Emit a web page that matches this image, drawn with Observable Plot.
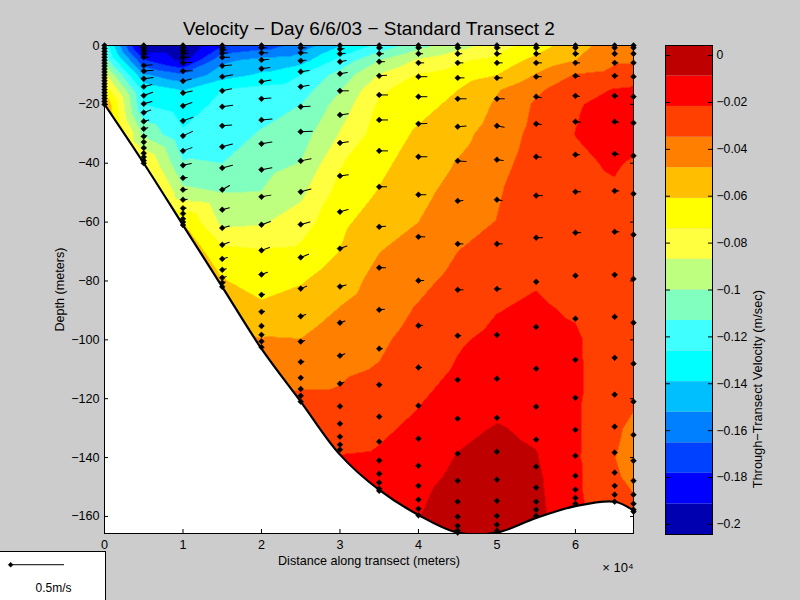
<!DOCTYPE html>
<html><head><meta charset="utf-8">
<script src="https://cdn.jsdelivr.net/npm/d3@7"></script>
<script src="https://cdn.jsdelivr.net/npm/@observablehq/plot@0.6"></script>
<style>
html,body{margin:0;padding:0;background:#ccc;overflow:hidden}
#fig{position:relative;width:800px;height:600px;background:#ccc}
#fig svg{position:absolute;left:0;top:0}
</style></head><body><div id="fig"></div>
<script>
const titleText = "Velocity \u2212 Day 6/6/03 \u2212 Standard Transect 2";
const xLabel = "Distance along transect (meters)";
const yLabel = "Depth (meters)";
const cLabel = "Through\u2212Transect Velocity (m/sec)";
const xTicks = [0,10000,20000,30000,40000,50000,60000];
const yTicks = [0,-20,-40,-60,-80,-100,-120,-140,-160];
const cTicks = [0,-0.02,-0.04,-0.06,-0.08,-0.1,-0.12,-0.14,-0.16,-0.18,-0.2];
const levels = [-0.2043,-0.1913,-0.1782,-0.1652,-0.1521,-0.1391,-0.1261,-0.113,-0.1,-0.0869,-0.0739,-0.0609,-0.0478,-0.0348,-0.0217,-0.0087];
const levelTop = 0.0043;
const colors = ["#0000b0","#0000ff","#0040ff","#0080ff","#00bfff","#00ffff","#40ffff","#80ffbf","#bfff80","#ffff40","#ffff00","#ffbf00","#ff8000","#ff4000","#ff0000","#bf0000"];

const stationX = [0,5000,10000,15000,20000,25000,30000,35000,40000,45000,50000,55000,60000,65000,67400];
const bottomDepth = [-20,-40,-61,-82,-103,-121,-139,-151,-159.5,-165.5,-165.5,-160.5,-156.5,-155,-158];

const gridDepth = [0,5,10,15,20,30,40,50,60,70,80,90,100,110,120,130,140,150,160,166];
const gridValues = [
[-.118,-.105,-.082,-.065,-.048,-.04,-.04,-.04,-.04,-.04,-.04,-.04,-.04,-.04,-.04,-.04,-.04,-.04,-.04,-.04],
[-.203,-.177,-.15,-.13,-.126,-.103,-.072,-.055,-.05,-.05,-.05,-.05,-.05,-.05,-.05,-.05,-.05,-.05,-.05,-.05],
[-.203,-.195,-.163,-.14,-.134,-.124,-.112,-.096,-.061,-.05,-.045,-.045,-.045,-.045,-.045,-.045,-.045,-.045,-.045,-.045],
[-.179,-.155,-.145,-.126,-.122,-.118,-.113,-.1,-.09,-.07,-.06,-.05,-.045,-.045,-.045,-.045,-.045,-.045,-.045,-.045],
[-.172,-.148,-.137,-.122,-.118,-.112,-.105,-.0995,-.0885,-.072,-.066,-.058,-.047,-.04,-.035,-.035,-.035,-.035,-.035,-.035],
[-.16,-.145,-.126,-.119,-.113,-.106,-.0995,-.09,-.08,-.071,-.062,-.054,-.0475,-.039,-.033,-.03,-.03,-.03,-.03,-.03],
[-.14,-.122,-.108,-.101,-.095,-.086,-.075,-.069,-.064,-.0605,-.053,-.047,-.041,-.037,-.033,-.028,-.021,-.02,-.02,-.02],
[-.122,-.1,-.086,-.076,-.072,-.068,-.064,-.06,-.054,-.048,-.044,-.041,-.037,-.034,-.028,-.024,-.02,-.017,-.015,-.015],
[-.105,-.085,-.073,-.068,-.065,-.059,-.055,-.052,-.0478,-.043,-.038,-.0335,-.03,-.027,-.023,-.019,-.015,-.011,-.009,-.008],
[-.092,-.076,-.068,-.061,-.058,-.052,-.047,-.042,-.038,-.0348,-.031,-.027,-.023,-.0205,-.016,-.0115,-.008,-.005,-.003,-.003],
[-.08,-.07,-.061,-.049,-.046,-.042,-.039,-.036,-.0345,-.03,-.026,-.022,-.019,-.016,-.012,-.008,-.006,-.004,-.003,-.003],
[-.068,-.057,-.047,-.037,-.033,-.031,-.029,-.028,-.026,-.024,-.0225,-.02,-.018,-.015,-.013,-.0105,-.008,-.006,-.005,-.005],
[-.052,-.048,-.034,-.027,-.023,-.0215,-.0235,-.025,-.027,-.027,-.026,-.023,-.02,-.0195,-.0196,-.0198,-.0198,-.0198,-.0185,-.0185],
[-.042,-.037,-.03,-.021,-.017,-.015,-.0205,-.023,-.025,-.026,-.027,-.028,-.029,-.03,-.031,-.033,-.0345,-.031,-.026,-.025],
[-.043,-.037,-.026,-.02,-.016,-.014,-.023,-.026,-.027,-.028,-.029,-.03,-.031,-.032,-.033,-.037,-.042,-.036,-.03,-.03]
];

const stationDepths = [
[0,1,2,3,4,5,6,7,8,9,10,11,12,13,14,15,16,17,18,19,20],
[0,.8,1.7,2.8,4,6.8,8.7,11.3,14,17,19.8,22.8,25.8,28.3,30.9,32.8,34.8,36.6,37.9,39.1,40],
[0,.8,1.7,2.6,4,5.9,8.7,12.1,16.1,20.5,25.6,30.7,35.8,40.7,45,49,52.4,55.3,57.1,58.9,60,61],
[0,.8,1.5,2.6,4,6.9,10.6,15.4,20.8,27.3,34.4,41.6,49,55.8,62,67.7,72.5,76.2,78.9,80.6,82],
[0,.8,2.5,4.9,7.9,12.3,18.1,25.3,33.4,42.2,51.4,60.9,69.6,77.8,84.7,90.5,95.3,98.3,100.5,102.5],
[0,.8,2.5,5.2,8.9,14,20.8,29.3,39.2,49.7,60.8,72,82.6,92,100.6,107.5,112.9,116.7,119,121],
[0,1.2,2.8,5.5,9.6,15.4,23.6,33.1,44.3,56.5,69,81.9,94.2,105.4,114.9,122.6,128.5,132.9,135.6,137.3],
[0,.8,2.8,5.5,10.3,16.8,25.3,35.8,48,61.6,75.5,89.8,103,115.3,126.1,134.6,141,145.5,148.5,150.6,151.3],
[0,.8,2.8,5.9,10.6,17.4,26.6,37.8,50.7,65,79.9,95.2,109.4,122.4,133.6,142.8,149.6,154.3,157.4,159.6],
[0,.8,2.8,5.9,11,18.1,27.6,39.2,52.8,67.4,83,98.6,113.6,126.8,138.7,147.9,155,160.1,163.2,164.8,165.5],
[0,.8,2.8,5.9,11,18.1,27.3,38.8,52.4,67.4,82.7,98.3,113.2,126.5,138,147.5,154.7,159.8,162.8,164.9],
[0,.8,2.8,5.9,10.6,17.4,26.6,37.8,51,65.3,80.3,95.6,109.8,122.7,133.9,143.1,150.2,155,157.7,159.8],
[0,.8,2.8,5.9,10.3,17.1,25.9,37.1,49.7,63.6,78.2,92.8,106.8,119.7,130.6,139.4,146.2,150.9,153.7,155.7],
[0,.8,2.8,5.9,10.3,17.1,25.9,36.8,49.4,63.3,77.9,92.2,106.1,118.6,129.5,138.3,145.1,149.6,152.6,155],
[0,.8,2.8,5.9,10.6,17.4,26.3,37.5,50.4,64.3,79.3,94.2,108.1,121,132.3,141.1,147.9,152.6,155.7,157.7,158.4]
];
const stationSpeeds = [
[0,0,0,0,0,0,0,0,0,0,0,0,0,0,0,0,0,0,0,0,0],
[.01,.02,.03,.04,.05,.08,.09,.09,.08,.09,.08,.07,.05,.04,.03,.02,.02,.01,.01,.005,.005],
[.01,.02,.04,.05,.06,.08,.09,.08,.09,.09,.1,.1,.09,.08,.04,.04,.04,.03,.02,.01,.01,.005],
[.01,.03,.04,.05,.07,.09,.1,.09,.1,.09,.1,.1,.08,.07,.07,.07,.05,.04,.04,.03,.005],
[.01,.05,.06,.07,.08,.09,.09,.1,.1,.1,.09,.09,.08,.06,.03,.03,.02,.01,.005,.005],
[.01,.05,.06,.05,.08,.08,.09,.11,.1,.1,.09,.08,.06,.05,.04,.03,.02,.01,.005,.005],
[.01,.04,.05,.06,.07,.08,.08,.08,.08,.08,.07,.06,.05,.05,.04,.01,.005,.005,.005,.005],
[.01,.03,.04,.05,.07,.08,.08,.08,.07,.06,.06,.05,.03,.02,.01,.005,.005,.005,.005,.005,.005],
[.01,.03,.04,.05,.08,.08,.08,.08,.07,.06,.05,.04,.03,.01,.005,.005,.005,.005,.005,.005],
[.01,.03,.04,.05,.06,.08,.08,.08,.05,.05,.05,.03,.01,.005,.005,.005,.005,.005,.005,.005,.005],
[.01,.03,.04,.05,.05,.07,.07,.06,.05,.05,.04,.01,.005,.005,.005,.005,.005,.005,.005,.005],
[.01,.03,.04,.05,.05,.05,.05,.05,.06,.06,.02,.005,.005,.005,.005,.005,.005,.005,.005,.005],
[.01,.02,.03,.04,.04,.04,.05,.04,.05,.05,.01,.005,.005,.005,.005,.005,.005,.005,.005,.005],
[.01,.01,.02,.03,.03,.03,.04,.04,.04,.04,.02,.02,.005,.005,.005,.005,.005,.005,.005,.005],
[.005,.005,.005,.005,.005,.005,.005,.005,.005,.005,.005,.005,.005,.005,.005,.005,.005,.005,.005,.005,.005]
];
const stationAngles = [
[0,0,0,0,0,0,0,0,0,0,0,0,0,0,0,0,0,0,0,0,0],
[0,0,0,0,0,5,5,8,15,20,15,20,15,15,15,15,15,15,0,0,0],
[0,0,0,0,0,2,2,15,12,20,20,25,20,12,5,5,5,5,5,0,0,0],
[0,0,0,0,0,5,10,12,8,5,15,15,30,15,15,20,15,15,15,15,0],
[0,0,0,5,8,10,5,5,10,10,10,20,20,20,10,10,10,0,0,0],
[0,0,0,5,8,10,3,3,12,15,15,22,22,20,15,10,10,0,0,0],
[0,5,5,10,10,0,8,8,8,15,20,15,20,22,20,0,0,0,0,0],
[0,0,0,0,5,0,0,0,0,5,0,5,0,0,0,0,0,0,0,0,0],
[0,0,0,0,0,0,2,0,0,0,3,5,0,0,0,0,0,0,0,0],
[0,0,0,0,0,0,5,-5,5,0,0,0,0,0,0,0,0,0,0,0,0],
[0,0,0,0,0,0,-10,-8,-10,0,0,0,0,0,0,0,0,0,0,0],
[0,0,0,0,0,-10,-8,-5,0,0,0,0,0,0,0,0,0,0,0,0],
[0,0,0,0,-8,-10,-5,0,0,0,0,0,0,0,0,0,0,0,0,0],
[0,0,0,0,0,-8,-8,-8,0,0,0,0,0,0,0,0,0,0,0,0],
[0,0,0,0,0,0,0,0,0,0,0,0,0,0,0,0,0,0,0,0,0]
];
const legendSpeed = 0.5;
const legendLabel = "0.5m/s";

const fontFamily = "'Liberation Sans',Arial,sans-serif";
const minus = d => String(d).replace("-", "\u2212");
const colorScale = {type:"threshold", domain: levels.slice(1), range: colors};
const lineOnly = {draw(c,l){c.moveTo(0,0);c.lineTo(0,-l);}};
const lengthScale = {type:"linear", domain:[0,0.5], range:[0,53]};

const samples = [];
stationX.forEach((x,i)=>gridDepth.forEach((d,j)=>samples.push({x, y:-d, v:gridValues[i][j]})));
const bottom = stationX.map((x,i)=>({x, y:bottomDepth[i]}));
const stations = [];
stationX.forEach((x,i)=>stationDepths[i].forEach((d,j)=>stations.push({x, y:-d, s:stationSpeeds[i][j], a:90-stationAngles[i][j]})));

const bands = levels.map((lo,i)=>({lo, hi: i+1<levels.length?levels[i+1]:levelTop}));

const main = Plot.plot({
  width:800,height:600,marginLeft:104,marginRight:167,marginTop:45,marginBottom:67,
  style:{background:"transparent",fontFamily,fontSize:"12.6px",color:"#000",overflow:"visible"},
  x:{domain:[0,67400]},
  y:{domain:[-165.8,0]},
  color:colorScale,
  length:lengthScale,
  marks:[
    Plot.contour(samples,{x:"x",y:"y",fill:"v",thresholds:levels,interpolate:"barycentric",pixelSize:1,smooth:false,clip:true}),
    Plot.areaY(bottom,{x:"x",y1:"y",y2:-165.8,fill:"white",curve:"catmull-rom",clip:true}),
    Plot.line(bottom,{x:"x",y:"y",stroke:"black",strokeWidth:2.2,curve:"catmull-rom",clip:true}),
    Plot.vector(stations,{x:"x",y:"y",length:"s",rotate:"a",anchor:"start",shape:lineOnly,stroke:"black",strokeWidth:1}),
    Plot.dot(stations,{x:"x",y:"y",symbol:"diamond2",r:2.6,fill:"black",stroke:"black",strokeWidth:.5}),
    Plot.frame({stroke:"black",strokeWidth:1}),
    Plot.axisX({ticks:xTicks,tickSize:-4,tickPadding:11,tickFormat:d=>d/10000,label:xLabel,labelAnchor:"center",labelArrow:"none",labelOffset:31,anchor:"bottom"}),
    Plot.axisX({ticks:xTicks,tickSize:-4,tickFormat:()=>"",label:null,anchor:"top"}),
    Plot.axisY({ticks:yTicks,tickSize:-4,tickPadding:9,tickFormat:minus,label:yLabel,labelAnchor:"center",labelArrow:"none",labelOffset:49,anchor:"left"}),
    Plot.axisY({ticks:yTicks,tickSize:-4,tickFormat:()=>"",label:null,anchor:"right"}),
    Plot.text([titleText],{frameAnchor:"top",dy:-17,fontSize:19,fill:"black",lineAnchor:"middle"}),
    Plot.text(["\u00d7 10\u2074"],{frameAnchor:"bottom-right",dy:34,fontSize:13,fill:"black",lineAnchor:"middle"})
  ]
});

const bar = Plot.plot({
  width:800,height:600,marginLeft:665,marginRight:88,marginTop:45,marginBottom:66,
  style:{background:"transparent",fontFamily,fontSize:"12.2px",color:"#000",overflow:"visible"},
  x:{domain:[0,1],axis:null},
  y:{domain:[levels[0],levelTop]},
  color:colorScale,
  marks:[
    Plot.rect(bands,{x1:0,x2:1,y1:"lo",y2:"hi",fill:"lo"}),
    Plot.frame({stroke:"black",strokeWidth:1}),
    Plot.axisY({ticks:cTicks,tickSize:-5,tickPadding:9,tickFormat:minus,label:null,anchor:"right"}),
    Plot.axisY({ticks:cTicks,tickSize:-5,tickFormat:()=>"",label:null,anchor:"left"}),
    Plot.text([cLabel],{frameAnchor:"right",dx:45,rotate:-90,fontSize:12.8,fill:"black",lineAnchor:"middle"})
  ]
});

const key = Plot.plot({
  width:800,height:600,marginLeft:-1,marginRight:695,marginTop:551,marginBottom:0,
  style:{background:"transparent",fontFamily,fontSize:"12px",color:"#000",overflow:"visible"},
  x:{domain:[0,1],axis:null},
  y:{domain:[0,1],axis:null},
  length:lengthScale,
  marks:[
    Plot.frame({fill:"white",stroke:"black",strokeWidth:1}),
    Plot.vector([legendSpeed],{x:0.105,y:0.73,length:d=>d,rotate:90,anchor:"start",shape:lineOnly,stroke:"black",strokeWidth:1}),
    Plot.dot([legendSpeed],{x:0.105,y:0.73,symbol:"diamond2",r:2.2,fill:"black",stroke:"black",strokeWidth:.5}),
    Plot.text([legendLabel],{x:0.51,y:0.25,fontSize:12,fill:"black"})
  ]
});

const fig = document.getElementById("fig");
fig.append(main, bar, key);
</script></body></html>
